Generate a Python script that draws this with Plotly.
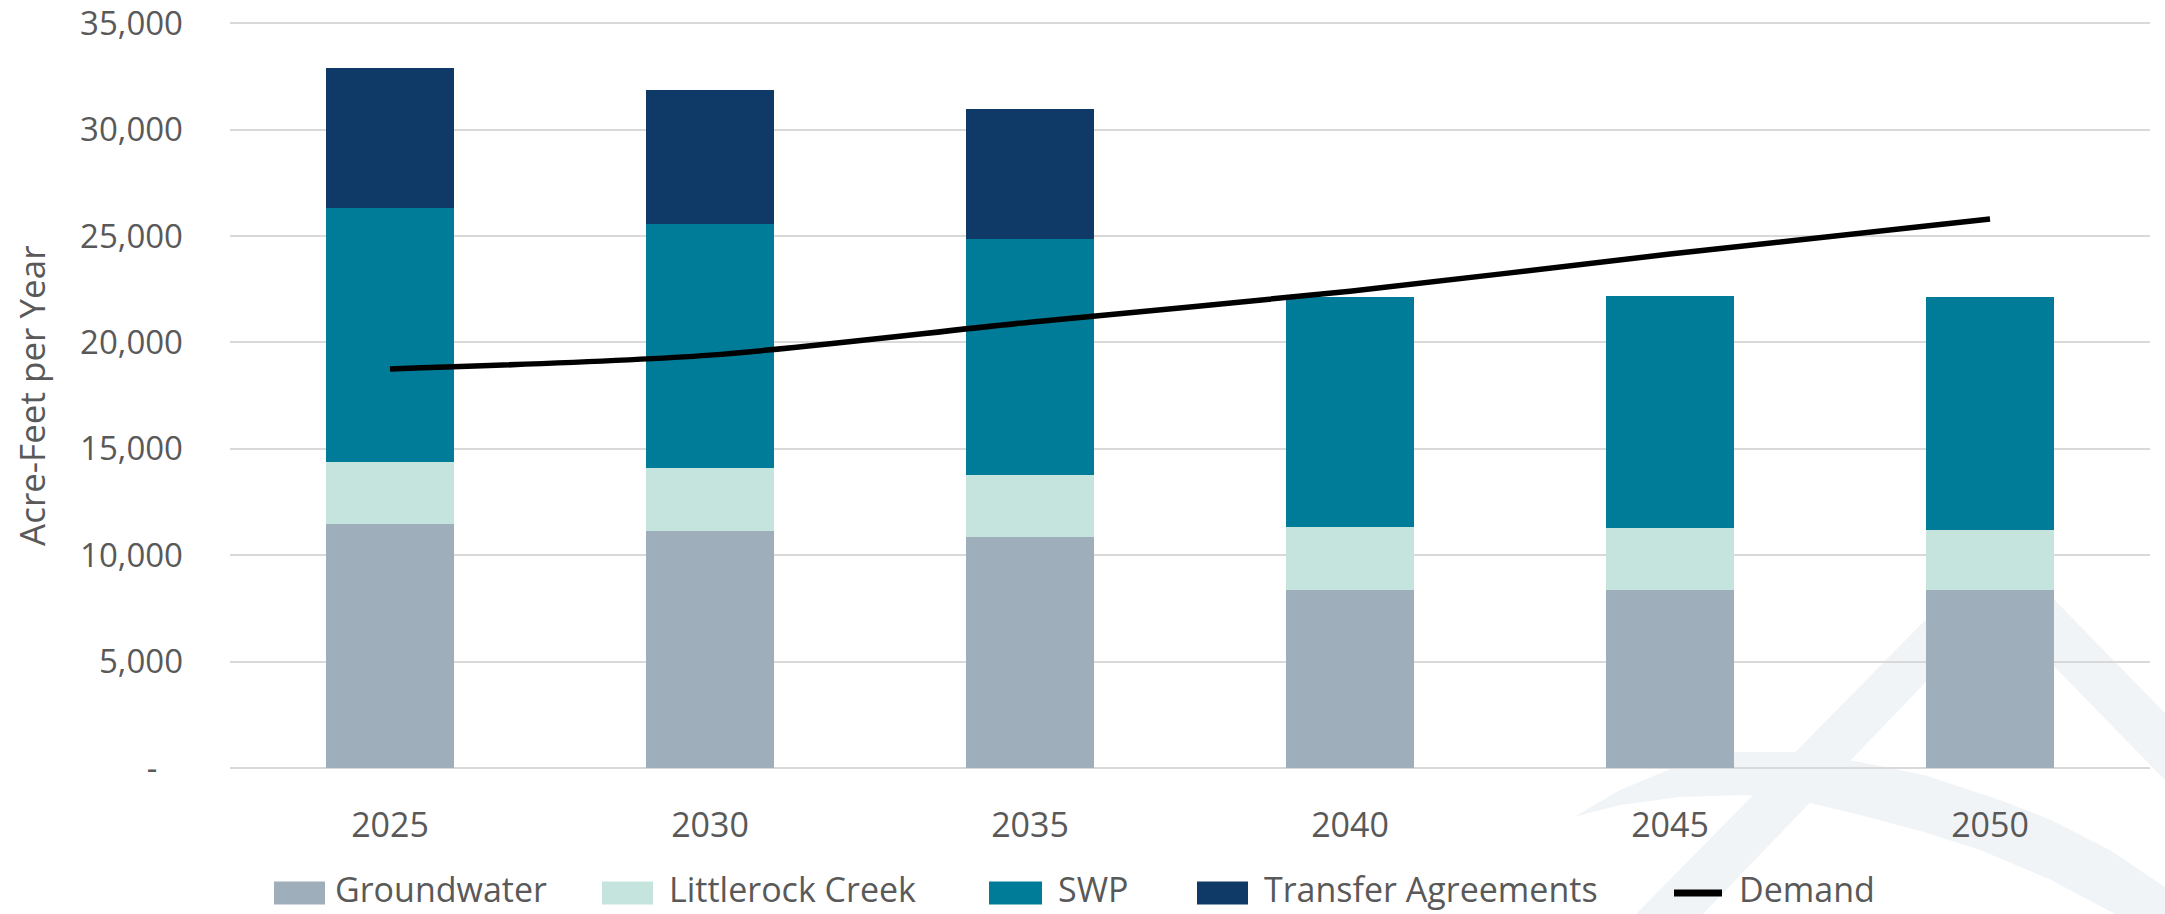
import plotly.graph_objects as go

# ---- data ----
years = ["2025", "2030", "2035", "2040", "2045", "2050"]
groundwater = [11450, 11130, 10870, 8380, 8380, 8380]
littlerock = [2935, 2950, 2910, 2940, 2880, 2815]
swp = [11940, 11505, 11090, 10835, 10915, 10915]
transfer = [6560, 6275, 6105, 0, 0, 0]
demand = [18750, 19400, 20950, 22400, 24150, 25800]

y_ticks = [0, 5000, 10000, 15000, 20000, 25000, 30000, 35000]
y_ticktext = ["-\u00a0\u00a0\u00a0", "5,000", "10,000", "15,000", "20,000", "25,000", "30,000", "35,000"]

series_names = ["Groundwater", "Littlerock Creek", "SWP", "Transfer Agreements"]
series_colors = ["#9FAEBB", "#C5E4DE", "#007C99", "#0F3A68"]

W, H = 2165, 914
L, R, T, B = 230, 15, 21, 146
PW, PH = W - L - R, H - T - B
FONT = "Open Sans"
TXT = "#595959"


def px(x):
    return (x - L) / PW


def py(y):
    return (H - B - y) / PH


fig = go.Figure()
for name, vals, col in zip(series_names, [groundwater, littlerock, swp, transfer], series_colors):
    fig.add_trace(go.Bar(x=years, y=vals, name=name, marker=dict(color=col, line=dict(width=0)),
                         showlegend=False))
fig.add_trace(go.Scatter(x=years, y=demand, name="Demand", mode="lines",
                         line=dict(color="#000000", width=5.5, shape="spline", smoothing=0.8),
                         showlegend=False))

shapes = []
# faint watermark logo (decorative)
wm = "#F1F4F7"


def poly(points):
    return "M " + " L ".join(f"{px(x):.5f},{py(y):.5f}" for x, y in points) + " Z"


a_pts = [(1636, 914), (2000, 544), (2200, 749), (2200, 816), (1997, 608), (1703, 914)]
shapes.append(dict(type="path", xref="paper", yref="paper", path=poly(a_pts), fillcolor=wm,
                   line=dict(width=0), layer="below"))
arc_pts = [(1574, 817), (1620, 790), (1680, 765), (1737, 752), (1800, 752), (1860, 762), (1924, 775),
           (2000, 800), (2051, 820), (2110, 850), (2165, 887), (2200, 912),
           (2200, 950), (2115, 914), (2051, 880), (1980, 850), (1924, 832), (1860, 815), (1810, 803),
           (1746, 795), (1680, 797), (1620, 805)]
shapes.append(dict(type="path", xref="paper", yref="paper", path=poly(arc_pts), fillcolor=wm,
                   line=dict(width=0), layer="below"))

# manual legend
legend_items = [
    ("Groundwater", series_colors[0], 274, 325, 333, "box"),
    ("Littlerock Creek", series_colors[1], 602, 653, 667, "box"),
    ("SWP", series_colors[2], 989, 1042, 1056, "box"),
    ("Transfer Agreements", series_colors[3], 1197, 1248, 1262, "box"),
    ("Demand", "#000000", 1671, 1725, 1737, "line"),
]
annotations = []
ly = 893
for name, col, x0, x1, tx, kind in legend_items:
    if kind == "box":
        shapes.append(dict(type="rect", xref="paper", yref="paper", x0=px(x0), x1=px(x1),
                           y0=py(ly - 11.5), y1=py(ly + 11.5), fillcolor=col, line=dict(width=0)))
    else:
        shapes.append(dict(type="line", xref="paper", yref="paper", x0=px(x0 + 3), x1=px(x1 - 3),
                           y0=py(ly), y1=py(ly), line=dict(color=col, width=7)))
    annotations.append(dict(text=name, xref="paper", yref="paper", x=px(tx), y=py(ly - 4),
                            xanchor="left", yanchor="middle", showarrow=False,
                            font=dict(family=FONT, size=34, color=TXT)))

annotations.append(dict(text="Acre-Feet per Year", xref="paper", yref="paper", x=px(31),
                        y=py(396), xanchor="center", yanchor="middle", textangle=-90,
                        showarrow=False, font=dict(family=FONT, size=35, color=TXT)))

fig.update_layout(
    width=W, height=H,
    margin=dict(l=L, r=R, t=T, b=B, pad=0, autoexpand=False),
    barmode="stack", bargap=0.6,
    paper_bgcolor="white", plot_bgcolor="rgba(0,0,0,0)",
    font=dict(family=FONT, size=35, color=TXT),
    shapes=shapes, annotations=annotations,
    showlegend=False,
)
fig.update_xaxes(type="category", showgrid=False, showline=False, zeroline=False,
                 tickfont=dict(family=FONT, size=34, color=TXT), ticks="",
                 ticklabelstandoff=34, automargin=False)
fig.update_yaxes(range=[0, 35100], tickvals=y_ticks, ticktext=y_ticktext, showgrid=True,
                 gridcolor="#D9D9D9", gridwidth=2, zeroline=True, zerolinecolor="#D9D9D9",
                 zerolinewidth=2, showline=False, ticks="", ticklabeloverflow="allow",
                 tickfont=dict(family=FONT, size=33, color=TXT), ticklabelstandoff=46,
                 automargin=False)

fig.write_html("out.html", config={"displayModeBar": False},
               post_script="document.body.style.margin='0px';document.body.style.overflow='hidden';")
